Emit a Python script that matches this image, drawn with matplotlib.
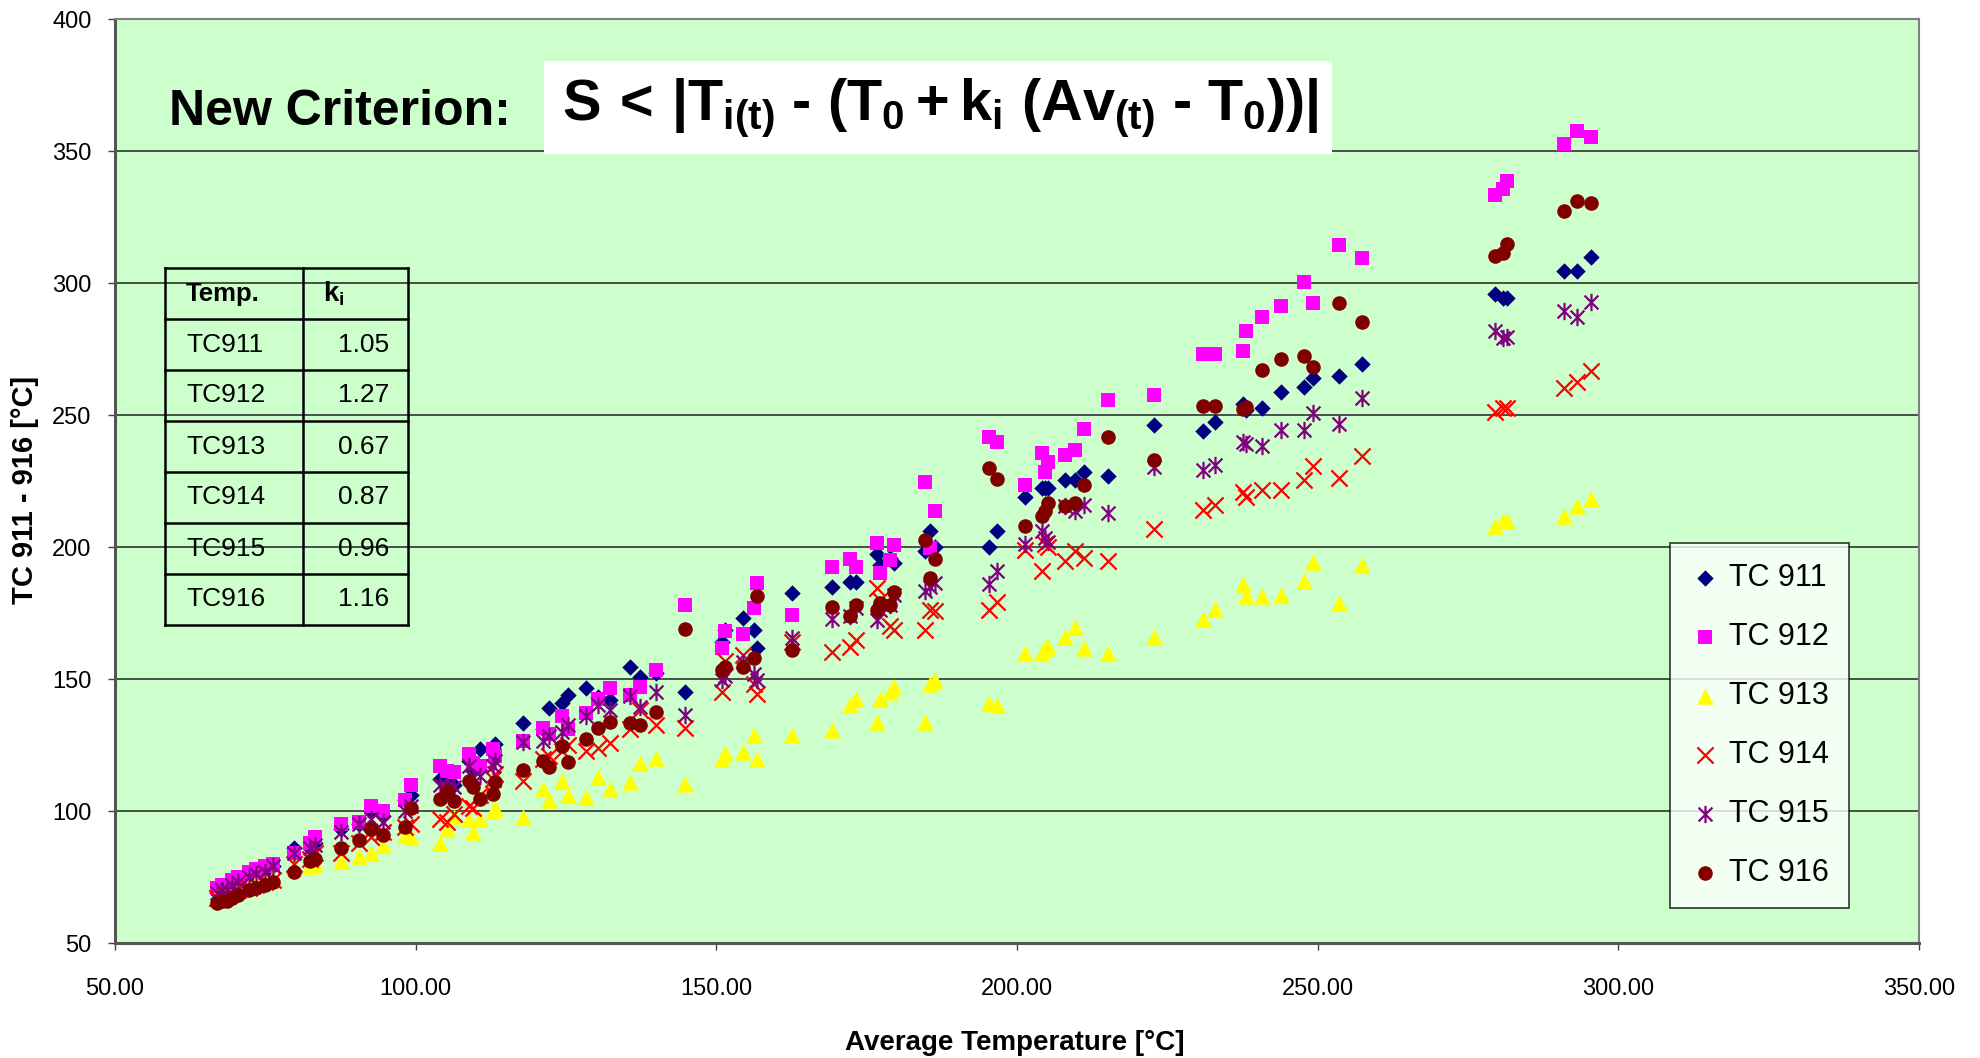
import matplotlib
matplotlib.use("Agg")
import matplotlib.pyplot as plt
from matplotlib.path import Path
from matplotlib.patches import Rectangle

# ---------------- data ----------------
avg_temp = [67.0, 67.8, 68.6, 69.5, 70.5, 72.3, 73.5, 75.0, 76.2, 79.7, 82.4, 83.3,
            87.5, 90.5, 92.5, 94.5, 98.2, 99.2,
            104.1, 105.2, 106.3, 108.8, 109.5, 110.7, 112.8, 113.2, 117.9, 121.2,
            122.2, 124.4, 125.4, 128.4, 130.4, 132.4, 135.65, 137.3, 140.0, 144.8,
            151.0, 151.5, 154.5, 156.3, 156.7, 162.5, 169.2, 172.2, 173.3, 176.7,
            177.2, 178.8, 179.5, 184.7, 185.5, 186.4, 195.3, 196.6, 201.3, 204.1,
            204.7, 205.2, 208.0, 209.65, 211.2, 215.2, 222.7, 231.0, 232.9, 237.6,
            238.1, 240.7, 243.9, 247.8, 249.3, 253.5, 257.3, 279.5, 280.8, 281.5,
            291.0, 293.1, 295.5]

tc911 = [69, 70, 70, 72, 73, 75, 76, 77, 79, 86, 86, 88,
         93, 95, 100, 98, 104, 106,
         112, 113, 110, 119, 115, 123.4, 124, 125.3, 133.4, 131,
         139, 141, 144, 146.5, 143, 142, 154.6, 150.9, 152.1, 145.2,
         164, 168.7, 173.1, 168.4, 161.7, 182.6, 184.9, 186.7, 186.7, 197.2,
         193, 196, 194, 198.5, 206.1, 200, 200, 206, 219, 222.25,
         222.25, 222.25, 225.4, 225.4, 228.5, 226.9, 246.25, 244.1, 247.25, 254,
         252, 252.5, 258.8, 260.7, 264.2, 264.7, 269.4, 295.8, 294.5, 294.5,
         304.6, 304.6, 309.8]

tc912 = [71, 72, 72, 74, 75, 77, 78, 79, 80, 84, 88, 90,
         95, 96, 102, 100, 104, 110,
         117, 115, 114.6, 121.5, 118, 117, 123.6, 121, 126.5, 131.5,
         129, 135.9, 130.9, 137, 142.4, 146.5, 144, 147.1, 153.4, 178.2,
         161.7, 168, 167.1, 176.9, 186.2, 174.4, 192.5, 195.3, 192.5, 201.6,
         190.2, 195, 200.6, 224.5, 199.7, 213.7, 241.6, 239.8, 223.5, 235.6,
         228.5, 232.25, 234.75, 236.6, 244.75, 255.6, 257.6, 273.2, 273.2, 274.1,
         282, 287.3, 291.4, 300.2, 292.3, 314.4, 309.3, 333.4, 335.7, 338.5,
         352.5, 357.5, 355.4]

tc913 = [68, 69, 69, 70, 70, 72, 73, 74, 75, 78, 79, 80,
         81, 83, 84, 87, 91, 90,
         88, 93, 97.7, 97, 92, 97, 100, 101, 97.7, 108.4,
         104, 111.5, 105.9, 105.25, 112.75, 108.4, 110.9, 118.1, 120.25, 110.3,
         119.8, 122, 122.3, 128.7, 119.8, 128.7, 130.8, 140.1, 142.6, 133.8,
         142.6, 145.2, 147.1, 133.8, 148.1, 149.6, 141, 140, 159.75, 159.75,
         161.6, 162, 166, 169.75, 161.9, 159.75, 166, 172.9, 176.6, 186,
         181.6, 181.6, 181.8, 187.3, 194.2, 178.8, 193.2, 208, 209.8, 209.8,
         211.9, 215.7, 218.2]

tc914 = [67, 67, 68, 69, 70, 71, 72, 73, 74, 80, 82, 84,
         84, 88, 90, 92, 94, 95,
         97, 96, 99, 102, 101, 106, 112, 114, 111.5, 119.6,
         121, 122.75, 125, 122.75, 124, 125.9, 130.9, 138.4, 132.75, 131.6,
         145.2, 157, 159.1, 148, 144.5, 164.2, 160.4, 162.3, 164.6, 184.5,
         180, 170, 168.7, 168.7, 176, 175.6, 176, 179, 199, 191,
         201, 200, 194.75, 198.5, 196, 194.75, 206.9, 214.1, 216, 221,
         219.1, 221.5, 221.5, 225.5, 230.5, 226.2, 234.3, 251.2, 252.5, 252.5,
         260.4, 262.5, 266.7]

tc915 = [69, 70, 70, 72, 73, 75, 76, 77, 79, 84, 86, 87,
         92, 95, 97, 96, 100, 102,
         110, 109, 109, 117, 113, 113.4, 117, 119, 126.1, 126.5,
         128.4, 130, 132.4, 135.9, 140, 138.4, 143.4, 139.4, 145.25, 136.3,
         149.6, 151, 156.6, 152, 149.6, 165.5, 172.7, 174, 177, 172.5,
         176, 178, 182, 183.2, 185, 186.4, 186, 191, 201, 206,
         203.5, 202, 215.4, 213.5, 216, 212.9, 230.4, 229.1, 231, 239.75,
         239, 238.3, 244.4, 244.4, 250.6, 246.6, 256.6, 281.7, 279.2, 279.4,
         289.5, 287.3, 292.7]

tc916 = [65, 66, 66, 67, 68, 70, 71, 72, 73, 77, 81, 82,
         86, 89, 93, 91, 94, 101,
         104.6, 107.7, 103.6, 111.5, 109, 104.6, 106.5, 110.9, 115.5, 119,
         116.5, 124.6, 118.6, 127.1, 131.5, 133.6, 133.4, 132.75, 137.4, 168.9,
         153.4, 154.5, 154.7, 157.9, 181.3, 161, 177.2, 174, 178.2, 176.3,
         178.8, 178.2, 182.9, 202.5, 188.3, 195.3, 229.8, 225.6, 207.9, 211.6,
         213.5, 216.6, 215.6, 216.6, 223.5, 241.6, 232.9, 253.5, 253.5, 252.25,
         253, 267.2, 271.3, 272.2, 268.2, 292.3, 285.1, 310.2, 311.5, 314.6,
         327.4, 331.2, 330.3]

series_labels = ["TC 911", "TC 912", "TC 913", "TC 914", "TC 915", "TC 916"]
table_names = ["TC911", "TC912", "TC913", "TC914", "TC915", "TC916"]
table_k = ["1.05", "1.27", "0.67", "0.87", "0.96", "1.16"]

x_ticks = [50, 100, 150, 200, 250, 300, 350]
y_ticks = [50, 100, 150, 200, 250, 300, 350, 400]

# ---------------- fonts ----------------
plt.rcParams["font.family"] = ["Liberation Sans", "DejaVu Sans"]
plt.rcParams["mathtext.fontset"] = "custom"
plt.rcParams["mathtext.rm"] = "Liberation Sans:bold"
plt.rcParams["mathtext.it"] = "Liberation Sans:bold"
plt.rcParams["mathtext.bf"] = "Liberation Sans:bold"

# asterisk marker: an X crossed by a vertical bar
star_path = Path([(-1, -1), (1, 1), (-1, 1), (1, -1), (0, -1.25), (0, 1.25)],
                 [Path.MOVETO, Path.LINETO, Path.MOVETO, Path.LINETO, Path.MOVETO, Path.LINETO])

styles = [
    dict(marker="D", s=70, c="#000080", linewidths=0),
    dict(marker="s", s=105, c="#FF00FF", linewidths=0),
    dict(marker="^", s=140, c="#FFFF00", linewidths=0),
    dict(marker="x", s=135, c="#FF0000", linewidths=1.6),
    dict(marker=star_path, s=155, c="#800080", linewidths=1.6),
    dict(marker="o", s=110, c="#800000", linewidths=0),
]
all_series = [tc911, tc912, tc913, tc914, tc915, tc916]

W, H = 1980, 1058
fig = plt.figure(figsize=(W / 100, H / 100), dpi=100)
fig.patch.set_facecolor("white")

left, right, top, bottom = 115, 1919, 19, 943
ax = fig.add_axes([left / W, 1 - bottom / H, (right - left) / W, (bottom - top) / H])
ax.set_facecolor("#CCFFCC")

for vals, lab, st in zip(all_series, series_labels, styles):
    ax.scatter(avg_temp, vals, label=lab, zorder=3, **st)

ax.set_xlim(50, 350)
ax.set_ylim(50, 400)
ax.set_xticks(x_ticks)
ax.set_xticklabels([f"{v:.2f}" for v in x_ticks])
ax.set_yticks(y_ticks)
ax.set_yticklabels([str(v) for v in y_ticks])
ax.tick_params(axis="both", direction="out", length=5, width=1, color="#404040",
               labelsize=17, labelcolor="black")
ax.tick_params(axis="x", pad=20)
ax.tick_params(axis="y", pad=12)

for yv in y_ticks[1:-1]:
    ax.axhline(yv, color="#222222", lw=1.1, zorder=1)

for name, sp in ax.spines.items():
    sp.set_color("#808080")
    sp.set_linewidth(1.5)
ax.spines["left"].set_color("#555555")
ax.spines["left"].set_linewidth(2.2)
ax.spines["bottom"].set_color("#555555")
ax.spines["bottom"].set_linewidth(2.2)

fig.text(25 / W, 1 - 490 / H, "TC 911 - 916 [°C]", rotation=90, ha="center", va="center",
         fontsize=21, fontweight="bold")
fig.text(1015 / W, 1 - 1043 / H, "Average Temperature [°C]", ha="center", va="center",
         fontsize=20, fontweight="bold")

leg = ax.legend(loc="center", bbox_to_anchor=(0.9115, 0.2355), frameon=True, fancybox=False,
                prop={"size": 22}, labelspacing=0.95, handlelength=1.0,
                handletextpad=0.3, borderpad=0.65, borderaxespad=0, scatterpoints=1)
leg.get_frame().set_edgecolor("black")
leg.get_frame().set_linewidth(1.2)
leg.get_frame().set_facecolor("white")
leg.set_zorder(6)

# overlay in pixel units for the criterion and the coefficient table
ov = fig.add_axes([0, 0, 1, 1], zorder=4)
ov.set_xlim(0, W)
ov.set_ylim(H, 0)
ov.axis("off")
ov.patch.set_alpha(0)

ov.text(340, 112, "New Criterion:", ha="center", va="center", fontsize=36,
        fontweight="bold")
ov.add_patch(Rectangle((544, 61), 788, 93, facecolor="white", edgecolor="none"))
ov.text(562, 108, "$S\\,<\\,|T_{i(t)}$ \u2010 $(T_0 + k_i\\ (Av_{(t)}$ \u2010 $T_0))|$",
        ha="left", va="center", fontsize=41.5, fontweight="bold")

tx0, tx1, tx2 = 165, 303, 408
ty0, row_h = 268, 51
n_rows = len(table_names) + 1
for r in range(n_rows + 1):
    ov.plot([tx0, tx2], [ty0 + r * row_h] * 2, color="black", lw=1.8)
for xv in (tx0, tx1, tx2):
    ov.plot([xv, xv], [ty0, ty0 + n_rows * row_h], color="black", lw=1.8)
ov.text(186, ty0 + row_h / 2, "Temp.", ha="left", va="center", fontsize=18.5, fontweight="bold")
ov.text(323, ty0 + row_h / 2, r"$\mathbf{k_i}$", ha="left", va="center", fontsize=20)
for i, (nm, kv) in enumerate(zip(table_names, table_k)):
    yc = ty0 + (i + 1.5) * row_h
    ov.text(186, yc, nm, ha="left", va="center", fontsize=19)
    ov.text(389, yc, kv, ha="right", va="center", fontsize=19)

fig.savefig("out.png", dpi=100)
